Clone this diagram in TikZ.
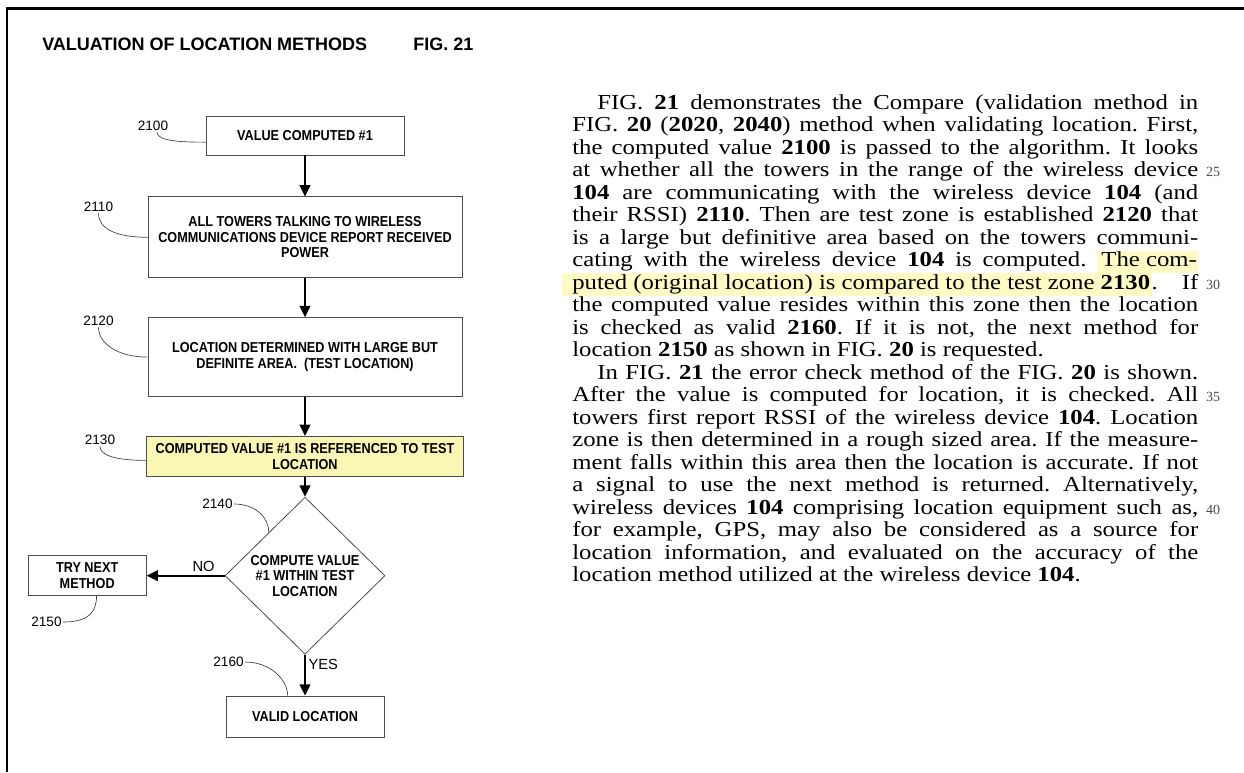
\documentclass[tikz,border=0pt]{standalone}
\usepackage{fontspec}
\setmainfont{Liberation Serif}
\setsansfont{Liberation Sans}
\newfontfamily\bodyfont[FakeStretch=1.16]{Liberation Serif}
\newfontfamily\boxfont[FakeStretch=0.88]{Liberation Sans}
\usetikzlibrary{shapes.geometric,positioning,arrows.meta,calc}
\definecolor{boxyellow}{HTML}{FAF7B5}
\definecolor{hlyellow}{HTML}{FDFBC4}
\newcommand{\hlt}[1]{{\setlength{\fboxsep}{0pt}\colorbox{hlyellow}{\strut\hspace{3pt}#1\hspace{1pt}}}}
\newcommand{\hltl}[1]{{\setlength{\fboxsep}{0pt}\hspace*{-7.5pt}\colorbox{hlyellow}{\strut\hspace{7.5pt}#1\hspace{1pt}}}}
\tikzset{
  block/.style={draw=black!70, line width=0.6pt, align=center, inner sep=2pt,
    font=\boxfont\bfseries\fontsize{10.8}{11.6}\selectfont},
  decision/.style={block, diamond, inner sep=0pt, minimum width=120pt, minimum height=117.75pt},
  flow/.style={-{Triangle[length=8.5pt,width=8pt]}, line width=1.5pt},
  refnum/.style={font=\sffamily\fontsize{10.2}{12}\selectfont, inner sep=1pt},
  answer/.style={font=\sffamily\fontsize{11}{13}\selectfont, inner sep=2pt},
  leader/.style={draw=black!75, line width=0.5pt},
  heading/.style={anchor=base west, inner sep=0pt, font=\sffamily\bfseries\fontsize{13.5}{16}\selectfont},
  margnum/.style={anchor=base, inner sep=0pt, text=black!70, font=\fontsize{10.5}{12}\selectfont}
}
\begin{document}
\begin{tikzpicture}[x=0.75pt, y=-0.75pt]
\useasboundingbox (0,0) rectangle (1244,772);
% frame and heading
\draw[line width=1.9pt] (7,772) -- (7,8.5) -- (1244,8.5);
\node[heading] (title) at (42,50) {VALUATION OF LOCATION METHODS};
\node[heading] (fig) at (413,50) {FIG. 21};

% flow chart
\node[block, minimum width=148.5pt, minimum height=29.25pt] (box2100) at (305,135.5) {VALUE COMPUTED \#1};
\node[block, minimum width=235.5pt, minimum height=60.75pt, below=30.75pt of box2100] (box2110)
  {ALL TOWERS TALKING TO WIRELESS\\COMMUNICATIONS DEVICE REPORT RECEIVED\\POWER};
\node[block, minimum width=235.5pt, minimum height=59.25pt, below=29.25pt of box2110] (box2120)
  {LOCATION DETERMINED WITH LARGE BUT\\DEFINITE AREA.\ \ (TEST LOCATION)};
\node[block, fill=boxyellow, minimum width=237.75pt, minimum height=30pt, below=29.25pt of box2120] (box2130)
  {COMPUTED VALUE \#1 IS REFERENCED TO TEST\\LOCATION};
\node[decision, below=15pt of box2130] (dia) {COMPUTE VALUE\\\#1 WITHIN TEST\\LOCATION};
\node[block, minimum width=88.5pt, minimum height=30pt, left=58.5pt of dia] (try) {TRY NEXT\\METHOD};
\node[block, minimum width=118.5pt, minimum height=30.75pt, below=30.75pt of dia] (valid) {VALID LOCATION};

\path[flow]
  (box2100) edge (box2110)
  (box2110) edge (box2120)
  (box2120) edge (box2130)
  (box2130) edge (dia)
  (dia) edge node[answer, above, pos=0.27] {NO} (try)
  (dia) edge node[answer, right, pos=0.25] {YES} (valid);

% reference numerals
\node[refnum] (l2100) at (153,126) {2100};
\node[refnum] (l2110) at (98.5,207) {2110};
\node[refnum] (l2120) at (98.5,321) {2120};
\node[refnum] (l2130) at (100,440) {2130};
\node[refnum] (l2140) at (217.5,504) {2140};
\node[refnum] (l2150) at (46.5,622) {2150};
\node[refnum] (l2160) at (228.5,662) {2160};

\draw[leader] ([xshift=3pt]l2100.south) .. controls +(0,9) and +(-22,0) .. ([yshift=-5pt]box2100.west);
\draw[leader] (l2110.south) .. controls +(0,16) and +(-30,0) .. (box2110.west);
\draw[leader] (l2120.south) .. controls +(0,16) and +(-30,0) .. (box2120.west);
\draw[leader] (l2130.south) .. controls +(0,9) and +(-30,0) .. ([yshift=-3pt]box2130.west);
\draw[leader] (l2140.east) .. controls +(22,0) and +(0,-14) .. ($(dia.north)!0.45!(dia.west)$);
\draw[leader] (l2150.east) .. controls +(25,0) and +(0,16) .. ([xshift=7pt]try.south);
\draw[leader] (l2160.east) .. controls +(25,0) and +(0,-16) .. ([xshift=-13pt]valid.north);

% description
\node[anchor=base west, inner sep=0pt, text width=469.5pt, align=justify,
  font=\bodyfont\fontsize{16}{16.89}\selectfont] (body) at (572,109) {%
\setlength{\parindent}{0pt}\frenchspacing\tolerance=9999\hyphenpenalty=10000%
\hspace*{18.75pt}FIG. \textbf{21} demonstrates the Compare (validation method in\linebreak
FIG. \textbf{20} (\textbf{2020}, \textbf{2040}) method when validating location. First,\linebreak
the computed value \textbf{2100} is passed to the algorithm. It looks\linebreak
at whether all the towers in the range of the wireless device\linebreak
\textbf{104} are communicating with the wireless device \textbf{104} (and\linebreak
their RSSI) \textbf{2110}. Then are test zone is established \textbf{2120} that\linebreak
is a large but definitive area based on the towers communi-\linebreak
cating with the wireless device \textbf{104} is computed. \hlt{The com-}\linebreak
\hltl{puted (original location) is compared to the test zone \textbf{2130}}. If\linebreak
the computed value resides within this zone then the location\linebreak
is checked as valid \textbf{2160}. If it is not, the next method for\linebreak
location \textbf{2150} as shown in FIG. \textbf{20} is requested.\par
\hspace*{18.75pt}In FIG. \textbf{21} the error check method of the FIG. \textbf{20} is shown.\linebreak
After the value is computed for location, it is checked. All\linebreak
towers first report RSSI of the wireless device \textbf{104}. Location\linebreak
zone is then determined in a rough sized area. If the measure-\linebreak
ment falls within this area then the location is accurate. If not\linebreak
a signal to use the next method is returned. Alternatively,\linebreak
wireless devices \textbf{104} comprising location equipment such as,\linebreak
for example, GPS, may also be considered as a source for\linebreak
location information, and evaluated on the accuracy of the\linebreak
location method utilized at the wireless device \textbf{104}.};

\foreach \n/\yy in {25/176.6, 30/289, 35/401.8, 40/514.4}
  \node[margnum] (ln\n) at (1213,\yy) {\n};
\end{tikzpicture}
\end{document}
